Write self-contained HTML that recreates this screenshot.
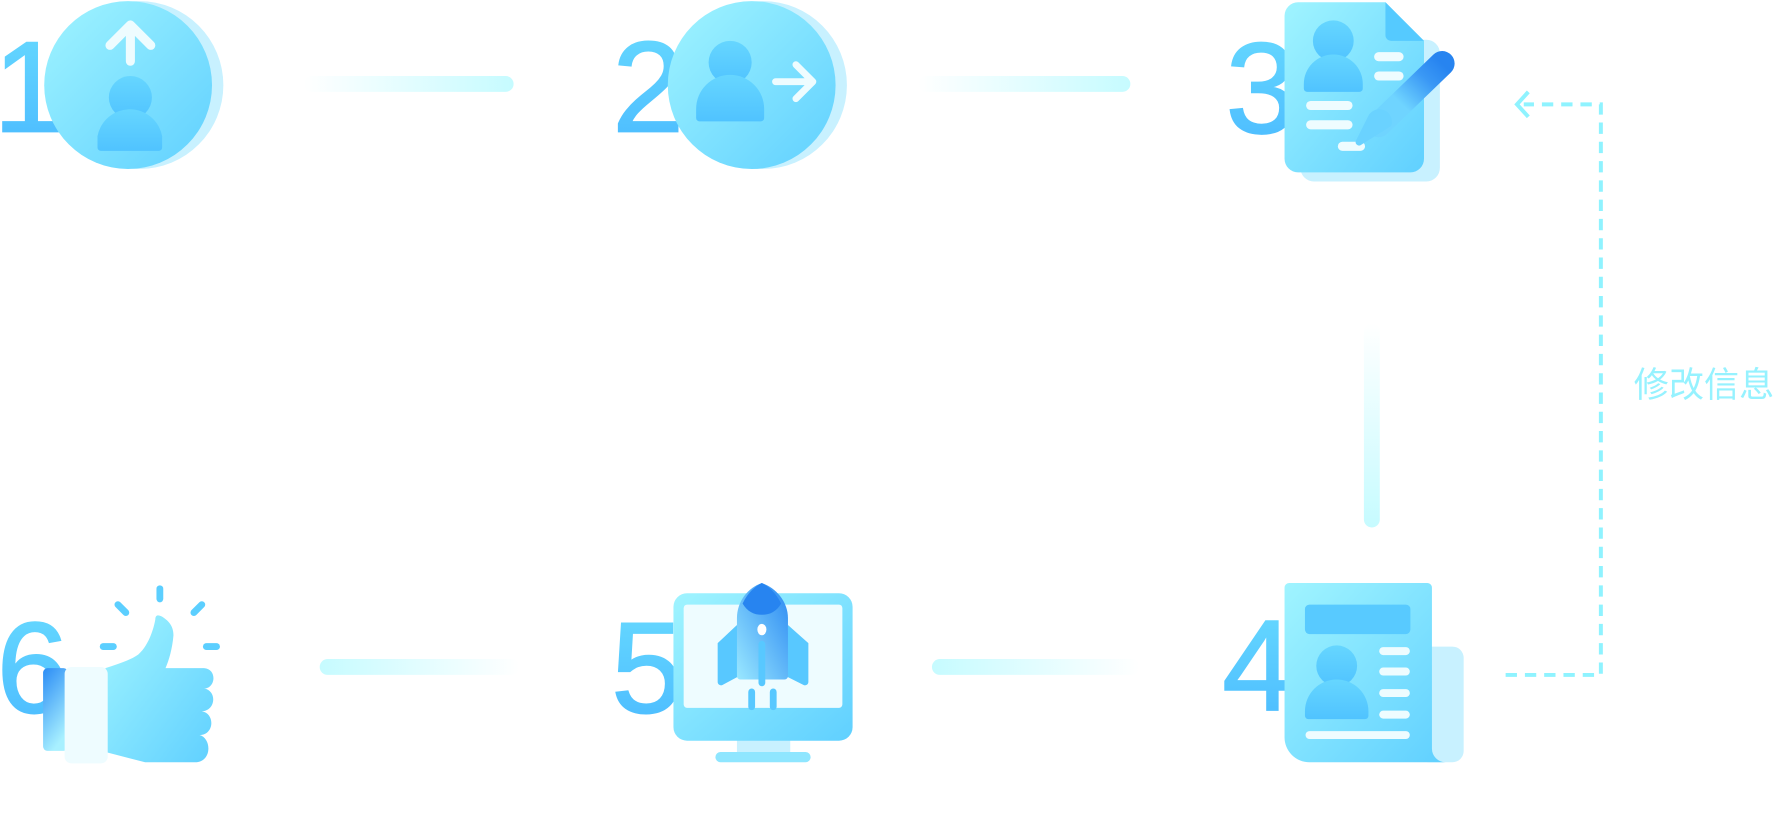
<!DOCTYPE html>
<html><head><meta charset="utf-8"><style>
html,body{margin:0;padding:0;background:#fff;width:1780px;height:836px;overflow:hidden}
svg{display:block}
</style></head><body>
<svg width="1780" height="836" viewBox="0 0 1570 737" preserveAspectRatio="none" xmlns="http://www.w3.org/2000/svg">
<defs>
<linearGradient id="num" x1="0" y1="0" x2="0" y2="1"><stop offset="0" stop-color="#68dbff"/><stop offset="1" stop-color="#4ab9ff"/></linearGradient>
<linearGradient id="main" x1="0" y1="0" x2="1" y2="1"><stop offset="0" stop-color="#a0f4ff"/><stop offset="1" stop-color="#60d0ff"/></linearGradient>
<linearGradient id="person" x1="0" y1="0" x2="0" y2="1"><stop offset="0" stop-color="#66d6ff"/><stop offset="1" stop-color="#50c3ff"/></linearGradient>
<linearGradient id="lineR" x1="0" y1="0" x2="1" y2="0"><stop offset="0" stop-color="#fff"/><stop offset="1" stop-color="#c6fbff"/></linearGradient>
<linearGradient id="lineL" x1="0" y1="0" x2="1" y2="0"><stop offset="0" stop-color="#c6fbff"/><stop offset="1" stop-color="#fff"/></linearGradient>
<linearGradient id="lineV" x1="0" y1="0" x2="0" y2="1"><stop offset="0" stop-color="#fff"/><stop offset="1" stop-color="#c6fbff"/></linearGradient>
<linearGradient id="pen" x1="0" y1="1" x2="1" y2="0"><stop offset="0" stop-color="#6fd4ff"/><stop offset="0.35" stop-color="#6fd4ff"/><stop offset="0.75" stop-color="#3a98f5"/><stop offset="1" stop-color="#2784f0"/></linearGradient>
<linearGradient id="sleeve" x1="0" y1="0" x2="0.4" y2="1"><stop offset="0" stop-color="#2b8cf5"/><stop offset="1" stop-color="#a8f0ff"/></linearGradient>
<linearGradient id="rocket" x1="0" y1="1" x2="1" y2="0"><stop offset="0" stop-color="#9ae8ff"/><stop offset="1" stop-color="#2a88f2"/></linearGradient>
</defs>

<rect x="268" y="67" width="185" height="14" rx="7" fill="url(#lineR)"/>
<rect x="810" y="67" width="187" height="14" rx="7" fill="url(#lineR)"/>
<rect x="1203" y="285" width="14" height="180" rx="7" fill="url(#lineV)"/>
<rect x="282" y="581" width="176" height="14" rx="7" fill="url(#lineL)"/>
<rect x="822" y="581" width="183" height="14" rx="7" fill="url(#lineL)"/>

<path d="M1328 595 H1412 V92 H1344" fill="none" stroke="#8ff3ff" stroke-width="3.5" stroke-dasharray="10 7"/>
<path d="M1348 81 L1338 92 L1348 103" fill="none" stroke="#8ff3ff" stroke-width="3.5"/>
<text x="1441" y="350" font-family="'Liberation Sans','Noto Sans CJK SC',sans-serif" font-size="31" fill="#96f2ff">修改信息</text>

<g font-family="'Liberation Sans',sans-serif" font-size="114" fill="url(#num)" stroke="url(#num)" stroke-width="1.5">
<text x="-6" y="116">1</text>
<text x="540" y="116">2</text>
<text x="1081" y="117">3</text>
<text x="1078" y="626">4</text>
<text x="539" y="628">5</text>
<text x="-3" y="628">6</text>
</g>

<circle cx="123" cy="75" r="74" fill="#c8f1ff"/>
<circle cx="113" cy="75" r="74" fill="url(#main)"/>
<path d="M97 40 L115 22 L133 40 M115 24 V54" fill="none" stroke="#eefcff" stroke-width="8" stroke-linecap="round" stroke-linejoin="round"/>
<circle cx="115" cy="86" r="19" fill="url(#person)"/>
<path d="M86 130 V120 a29 29 0 0 1 57 0 V130 a3 3 0 0 1 -3 3 H89 a3 3 0 0 1 -3 -3Z" fill="url(#person)"/>

<circle cx="673" cy="75" r="74" fill="#c8f1ff"/>
<circle cx="663" cy="75" r="74" fill="url(#main)"/>
<circle cx="644" cy="55" r="19" fill="url(#person)"/>
<path d="M614 104 V96 a30 30 0 0 1 60 0 V104 a3 3 0 0 1 -3 3 H617 a3 3 0 0 1 -3 -3Z" fill="url(#person)"/>
<path d="M684 72 H714 M702 57 L717 72 L702 87" fill="none" stroke="#eefcff" stroke-width="6" stroke-linecap="round" stroke-linejoin="round"/>

<rect x="1147" y="35" width="123" height="125" rx="12" fill="#c8f1ff"/>
<path d="M1145 2 H1222 L1256 36 V140 a12 12 0 0 1 -12 12 H1145 a12 12 0 0 1 -12 -12 V14 a12 12 0 0 1 12 -12Z" fill="url(#main)"/>
<path d="M1222 2 L1256 36 H1227 a5 5 0 0 1 -5 -5Z" fill="#55caff"/>
<circle cx="1176" cy="36" r="18" fill="url(#person)"/>
<path d="M1150 78 V74 a26 26 0 0 1 52 0 V78 a3 3 0 0 1 -3 3 H1153 a3 3 0 0 1 -3 -3Z" fill="url(#person)"/>
<g stroke="#eefcff" stroke-width="8" stroke-linecap="round">
<line x1="1216" y1="50" x2="1234" y2="50"/><line x1="1216" y1="67" x2="1234" y2="67"/>
<line x1="1156" y1="93" x2="1189" y2="93"/><line x1="1156" y1="110" x2="1189" y2="110"/>
<line x1="1184" y1="129" x2="1200" y2="129"/>
</g>
<line x1="1216" y1="110" x2="1272" y2="56" stroke="url(#pen)" stroke-width="22" stroke-linecap="round"/>
<path d="M1207 102 a11 11 0 0 1 20 9 L1200 128 a3 3 0 0 1 -4 -4Z" fill="#6ad2ff"/>

<rect x="1250" y="570" width="41" height="102" rx="10" fill="#c8f1ff"/>
<path d="M1137 514 H1259 a4 4 0 0 1 4 4 V660 a12 12 0 0 0 12 12 H1155 a22 22 0 0 1 -22 -22 V518 a4 4 0 0 1 4 -4Z" fill="url(#main)"/>
<rect x="1151" y="533" width="93" height="26" rx="4" fill="#58caff"/>
<circle cx="1179" cy="587" r="18" fill="url(#person)"/>
<path d="M1151 631 V627 a28 28 0 0 1 56 0 V631 a3 3 0 0 1 -3 3 H1154 a3 3 0 0 1 -3 -3Z" fill="url(#person)"/>
<g stroke="#eefcff" stroke-width="7" stroke-linecap="round">
<line x1="1220" y1="574" x2="1240" y2="574"/><line x1="1220" y1="592" x2="1240" y2="592"/>
<line x1="1220" y1="611" x2="1240" y2="611"/><line x1="1220" y1="630" x2="1240" y2="630"/>
<line x1="1155" y1="648" x2="1240" y2="648"/>
</g>

<rect x="650" y="650" width="47" height="15" fill="#c8f1ff"/>
<rect x="631" y="663" width="84" height="9" rx="4.5" fill="#8fe6ff"/>
<rect x="594" y="523" width="158" height="130" rx="12" fill="url(#main)"/>
<rect x="603" y="533" width="140" height="91" rx="3" fill="#eefcff"/>
<path d="M650 551 L633 567 V601 a3 3 0 0 0 4 3 L652 596Z" fill="#58c8ff"/>
<path d="M695 551 L713 567 V601 a3 3 0 0 1 -4 3 L693 596Z" fill="#58c8ff"/>
<path d="M650 545 C650 530 660 518 672 514 C684 518 695 530 695 545 V596 a3 3 0 0 1 -3 3 H653 a3 3 0 0 1 -3 -3Z" fill="url(#rocket)"/>
<path d="M655 532 C660 522 666 517 672 514 C678 517 684 522 689 532 C685 539 679 542 672 542 C665 542 659 539 655 532Z" fill="#2784f0"/>
<ellipse cx="672" cy="555" rx="4" ry="5" fill="#fff"/>
<g stroke="#58c8ff" stroke-width="6" stroke-linecap="round">
<line x1="672" y1="568" x2="672" y2="602"/>
<line x1="663" y1="610" x2="663" y2="623"/><line x1="682" y1="610" x2="682" y2="623"/>
</g>

<g stroke="#5ccfff" stroke-width="6" stroke-linecap="round">
<line x1="141" y1="519" x2="141" y2="528"/>
<line x1="104" y1="533" x2="111" y2="540"/><line x1="178" y1="533" x2="171" y2="540"/>
<line x1="91" y1="570" x2="100" y2="570"/><line x1="182" y1="570" x2="191" y2="570"/>
</g>
<rect x="38" y="589" width="22" height="73" rx="4" fill="url(#sleeve)"/>
<path d="M93 589 C105 585 115 582 122 577 C132 568 136 552 137 546 C137 541 141 542 145 545 C152 550 153 556 153 560 C152 572 149 582 146 589 H180 C192 590 190 607 180 607 C192 609 190 627 178 627 C190 629 189 648 176 648 C187 651 187 672 172 672 H128 L93 663Z" fill="url(#main)"/>
<rect x="57" y="588" width="38" height="85" rx="6" fill="#eefcff"/>
</svg>
</body></html>
